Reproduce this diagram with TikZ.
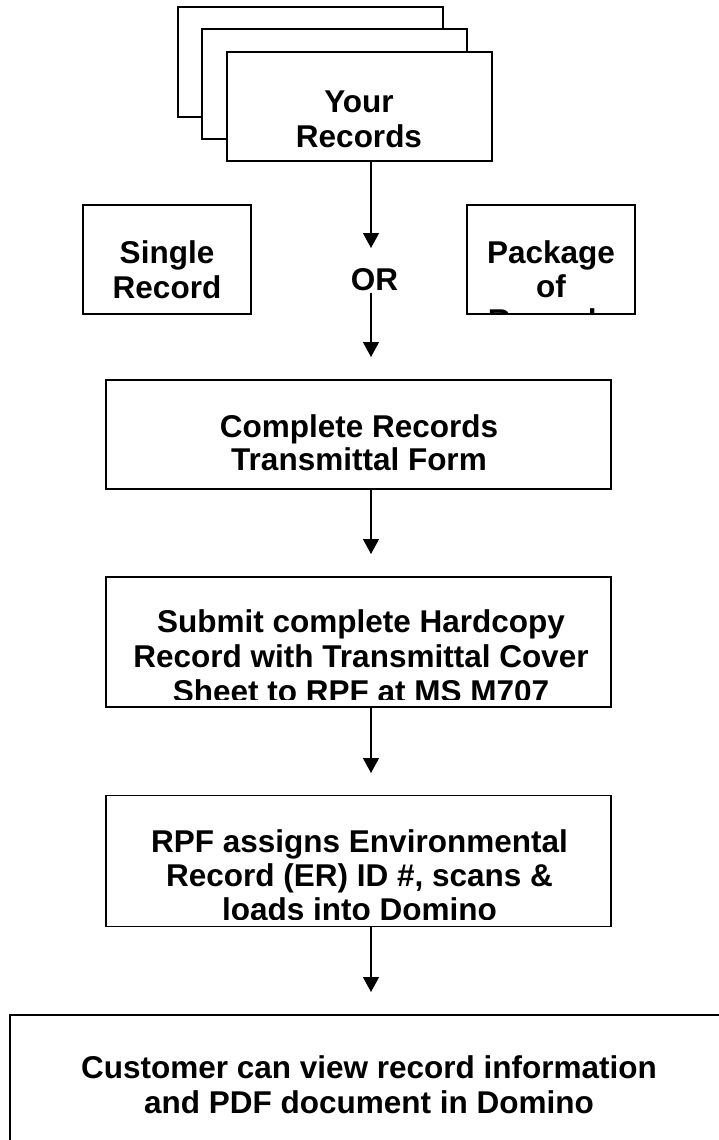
\documentclass[tikz,border=0pt]{standalone}
\usepackage{fontspec}
\setmainfont{Liberation Sans}
\usetikzlibrary{arrows.meta}
\begin{document}
\begin{tikzpicture}[x=1bp,y=-1bp,
  box/.style={draw, line width=1.5bp, fill=white, inner sep=0pt, outer sep=0pt},
  txt/.style={anchor=base, inner sep=0pt, outer sep=0pt, font=\bfseries\fontsize{31.5bp}{36bp}\selectfont},
  arr/.style={line width=1.3bp, -{Triangle[width=16bp,length=15bp]}}]
\useasboundingbox (0,0) rectangle (719,1140);
\clip (0,0) rectangle (719,1140);
\fill[white] (0,0) rectangle (719,1140);
\coordinate (axis) at (371,0);

% stacked records
\node[box, minimum width=265bp, minimum height=110bp] (back) at (310.5,62) {};
\node[box, minimum width=265bp, minimum height=110bp] (mid) at (334.5,84) {};
\node[box, minimum width=265bp, minimum height=109bp] (front) at (359.5,106.5) {};
\node[txt] (your1) at (359,112) {Your};
\node[txt] (your2) at (359,147) {Records};

% single / package
\node[box, minimum width=168bp, minimum height=109bp] (single) at (167,259.5) {};
\node[txt] (sing1) at (167,263) {Single};
\node[txt] (sing2) at (167,298) {Record};

\node[box, minimum width=168bp, minimum height=109bp] (package) at (551,259.5) {};
\begin{scope}
  \clip (468,206) rectangle (634,313);
  \node[txt] (pack1) at (551,263) {Package};
  \node[txt] (pack2) at (551,297) {of};
  \node[txt] (pack3) at (551,331) {Records};
\end{scope}

\node[txt] (ortext) at (374.5,290) {OR};

% complete
\node[box, minimum width=505bp, minimum height=109bp] (complete) at (358.5,434.5) {};
\node[txt] (comp1) at (359,437) {Complete Records};
\node[txt] (comp2) at (359,470.5) {Transmittal Form};

% submit
\node[box, minimum width=505bp, minimum height=130bp] (submit) at (358.5,642) {};
\begin{scope}
  \clip (108,578) rectangle (609,699.3);
  \node[txt] (sub1) at (361,632) {Submit complete Hardcopy};
  \node[txt] (sub2) at (361,667) {Record with Transmittal Cover};
  \node[txt] (sub3) at (361,702) {Sheet to RPF at MS M707};
\end{scope}

% RPF
\node[box, minimum width=505bp, minimum height=131bp] (rpf) at (358.5,861) {};
\begin{scope}
  \clip (108,796) rectangle (609,919.3);
  \node[txt] (rpf1) at (359.5,852.5) {RPF assigns Environmental};
  \node[txt] (rpf2) at (359.5,886.5) {Record (ER) ID \#, scans \&};
  \node[txt] (rpf3) at (359.5,920.5) {loads into Domino};
\end{scope}

% customer
\node[box, minimum width=720bp, minimum height=150bp] (customer) at (370,1090) {};
\node[txt] (cust1) at (369,1078) {Customer can view record information};
\node[txt] (cust2) at (369,1113) {and PDF document in Domino};

% connectors
\coordinate (t1) at (371,248);
\coordinate (s2) at (371,292.5);
\coordinate (t2) at (371,357);
\coordinate (t3) at (371,554);
\coordinate (t4) at (371,773);
\coordinate (t5) at (371,992);
\draw[arr] (front.south -| axis) -- (t1);
\draw[arr] (s2) -- (t2);
\draw[arr] (complete.south -| axis) -- (t3);
\draw[arr] (submit.south -| axis) -- (t4);
\draw[arr] (rpf.south -| axis) -- (t5);
\end{tikzpicture}
\end{document}
